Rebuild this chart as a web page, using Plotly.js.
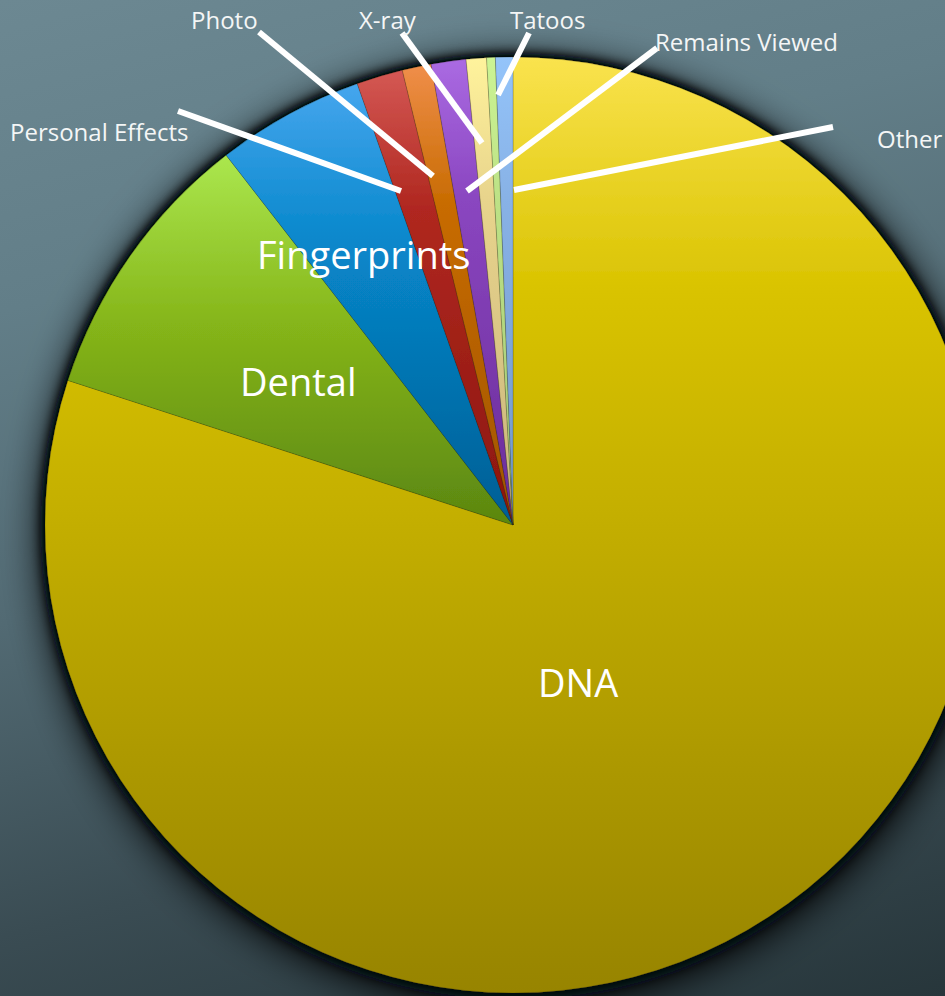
<!DOCTYPE html>
<html>
<head>
<meta charset="utf-8">
<script src="https://cdn.plot.ly/plotly-3.0.1.min.js"></script>
<style>
  html, body { margin: 0; padding: 0; width: 945px; height: 996px; overflow: hidden; }
  body { background: linear-gradient(165deg, #6c8892 0%, #627e88 25%, #526a73 50%, #3a4c53 75%, #27363b 100%); }
  #chart { position: absolute; left: 0; top: 0; width: 1000px; height: 1000px; }
</style>
</head>
<body>
<div id="chart"></div>
<script>
// ---- data (clockwise from 12 o'clock) ----
const labels = ["DNA", "Dental", "Fingerprints", "Personal Effects", "Photo", "Remains Viewed", "X-ray", "Tatoos", "Other"];
const values = [80.0, 9.5, 5.1, 1.6, 1.0, 1.2, 0.7, 0.3, 0.6];

// ---- styling ----
const baseColors = ["#c9b200", "#86b61a", "#0a84c4", "#b82a22", "#cc6e08", "#8a46c0", "#eedc90", "#bfe68a", "#8ab6ea"];
const gradStops = [
  [["0", "#fae34e"], ["0.25", "#d9c300"], ["1", "#978400"]],
  [["0", "#abe74e"], ["0.45", "#86b61a"], ["1", "#5a8610"]],
  [["0", "#46a6ee"], ["0.35", "#0888cc"], ["1", "#005e94"]],
  [["0", "#d45854"], ["0.3", "#b02820"], ["1", "#8c160e"]],
  [["0", "#f08e4a"], ["0.3", "#c86c02"], ["1", "#a05400"]],
  [["0", "#aa6ae2"], ["0.3", "#8a46c0"], ["1", "#6a2c98"]],
  [["0", "#fff39c"], ["0.3", "#e8d48c"], ["1", "#c8b47c"]],
  [["0", "#ccf494"], ["0.3", "#bde286"], ["1", "#a4c878"]],
  [["0", "#94c4fa"], ["0.3", "#88b2e6"], ["1", "#7498c8"]]
];

const W = 1000, H = 1000;
const px = x => x / W;
const py = y => 1 - y / H;

// outside labels: text centre and leader line (start -> end) in page pixels
const outLabels = [
  {text: "Personal Effects", x: 99,  y: 131, from: [178, 111], to: [401, 191]},
  {text: "Photo",            x: 224, y: 19,  from: [259, 32],  to: [433, 176]},
  {text: "X-ray",            x: 388, y: 19,  from: [402, 33],  to: [482, 143]},
  {text: "Tatoos",           x: 547, y: 19,  from: [529, 33],  to: [498, 95]},
  {text: "Remains Viewed",   x: 746, y: 41,  from: [657, 48],  to: [467, 191]},
  {text: "Other",            x: 909, y: 138, from: [833, 127], to: [514, 190]}
];
const inLabels = [
  {text: "Fingerprints", x: 363, y: 254},
  {text: "Dental",       x: 298, y: 381},
  {text: "DNA",          x: 578, y: 682}
];

const font = "'Open Sans', 'Noto Sans', sans-serif";

const annotations = [];
outLabels.forEach(l => annotations.push({
  xref: "paper", yref: "paper", x: px(l.x), y: py(l.y), text: l.text, showarrow: false,
  xanchor: "center", yanchor: "middle", font: {family: font, size: 24, color: "#f4f6f6"}
}));
inLabels.forEach(l => annotations.push({
  xref: "paper", yref: "paper", x: px(l.x), y: py(l.y), text: l.text, showarrow: false,
  xanchor: "center", yanchor: "middle", font: {family: font, size: 38, color: "#ffffff"}
}));

const shapes = outLabels.map(l => ({
  type: "line", xref: "paper", yref: "paper",
  x0: px(l.from[0]), y0: py(l.from[1]), x1: px(l.to[0]), y1: py(l.to[1]),
  line: {color: "#ffffff", width: 6}
}));

const trace = {
  type: "pie",
  labels: labels,
  values: values,
  sort: false,
  direction: "clockwise",
  rotation: 0,
  textinfo: "none",
  hoverinfo: "label+percent",
  showlegend: false,
  marker: {colors: baseColors, line: {color: "rgba(40,40,20,0.35)", width: 0.6}},
  domain: {x: [px(45), px(981)], y: [py(993), py(57)]}
};

const layout = {
  width: W, height: H,
  margin: {l: 0, r: 0, t: 0, b: 0},
  paper_bgcolor: "rgba(0,0,0,0)",
  plot_bgcolor: "rgba(0,0,0,0)",
  showlegend: false,
  annotations: annotations,
  shapes: shapes
};

Plotly.newPlot("chart", [trace], layout, {displayModeBar: false, staticPlot: true}).then(gd => {
  const NS = "http://www.w3.org/2000/svg";
  const svg = gd.querySelector("svg.main-svg");
  let defs = svg.querySelector("defs");
  if (!defs) { defs = document.createElementNS(NS, "defs"); svg.insertBefore(defs, svg.firstChild); }
  gradStops.forEach((stops, i) => {
    const g = document.createElementNS(NS, "linearGradient");
    g.setAttribute("id", "sliceGrad" + i);
    g.setAttribute("x1", "0"); g.setAttribute("y1", "0");
    g.setAttribute("x2", "0"); g.setAttribute("y2", "1");
    stops.forEach(s => {
      const st = document.createElementNS(NS, "stop");
      st.setAttribute("offset", s[0]);
      st.setAttribute("stop-color", s[1]);
      g.appendChild(st);
    });
    defs.appendChild(g);
  });
  const f = document.createElementNS(NS, "filter");
  f.setAttribute("id", "pieShadow");
  f.setAttribute("x", "-20%"); f.setAttribute("y", "-20%");
  f.setAttribute("width", "140%"); f.setAttribute("height", "140%");
  f.innerHTML =
    '<feGaussianBlur in="SourceAlpha" stdDeviation="7" result="b1"/>' +
    '<feComponentTransfer in="b1" result="d1"><feFuncA type="linear" slope="2.2"/></feComponentTransfer>' +
    '<feGaussianBlur in="SourceAlpha" stdDeviation="22" result="b2"/>' +
    '<feOffset in="b2" dx="2" dy="8" result="o2"/>' +
    '<feComponentTransfer in="o2" result="d2"><feFuncA type="linear" slope="1.3"/></feComponentTransfer>' +
    '<feMerge result="dm"><feMergeNode in="d2"/><feMergeNode in="d1"/></feMerge>' +
    '<feFlood flood-color="#050809" result="col"/>' +
    '<feComposite in="col" in2="dm" operator="in" result="shadow"/>' +
    '<feMerge><feMergeNode in="shadow"/><feMergeNode in="SourceGraphic"/></feMerge>';
  defs.appendChild(f);
  const paths = gd.querySelectorAll(".pielayer .slice path.surface");
  paths.forEach((p, i) => { p.style.fill = "url(#sliceGrad" + i + ")"; });
  const tr = gd.querySelector(".pielayer .trace");
  if (tr) tr.setAttribute("filter", "url(#pieShadow)");
});
</script>
</body>
</html>
